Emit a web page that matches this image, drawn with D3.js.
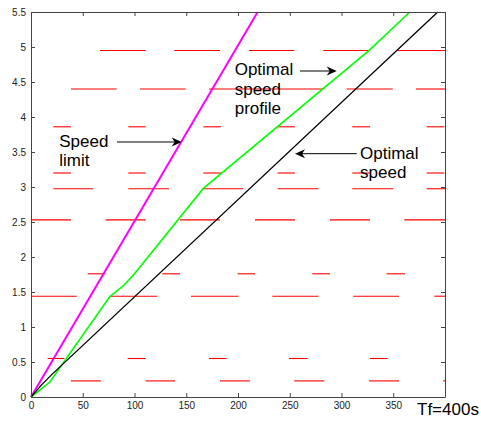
<!DOCTYPE html>
<html>
<head>
<meta charset="utf-8">
<script src="https://cdn.jsdelivr.net/npm/d3@7"></script>
<style>
  html, body { margin: 0; padding: 0; background: #fff; }
  svg { display: block; font-family: "Liberation Sans", Arial, sans-serif; }
</style>
</head>
<body>
<svg id="chart" width="481" height="421"></svg>
<script>
// ---- data ----
const xTicks = [0, 50, 100, 150, 200, 250, 300, 350, 400];
const xTickLabels = ["0", "50", "100", "150", "200", "250", "300", "350", ""];
const yTicks = [0, 0.5, 1, 1.5, 2, 2.5, 3, 3.5, 4, 4.5, 5, 5.5];
const yTickLabels = ["0", "0.5", "1", "1.5", "2", "2.5", "3", "3.5", "4", "4.5", "5", "5.5"];

// signal positions (distance) and their red phases (time intervals, s)
const stopDist = [0.23, 0.55, 1.44, 1.76, 2.53, 2.975, 3.20, 3.86, 4.40, 4.95];
const redPhases = [
  [[38.6, 67.6], [110.8, 139.1], [182.6, 211.6], [254.4, 283.4], [326.6, 355.6], [398.4, 400]],
  [[16.1, 32.2], [93.4, 110.8], [172, 189], [249.3, 267.3], [327.5, 344.6]],
  [[0, 44.2], [76.3, 122], [154.6, 200.3], [233.2, 277.6], [311.4, 355.6], [389.7, 400]],
  [[54.8, 71.5], [126.9, 143.9], [199.7, 216.4], [271.8, 288.9], [343.6, 361.4]],
  [[0, 38.6], [72.2, 110.8], [144, 182.6], [216.4, 255], [288.9, 327.5], [360.7, 400]],
  [[21.6, 60.2], [94, 133.3], [166.5, 205.1], [238.3, 277.6], [310.4, 350], [382.3, 400]],
  [[21.6, 38.6], [94, 110.8], [166.5, 183.6], [238.3, 255], [310.4, 327.5], [382.3, 399.4]],
  [[21.6, 38.6], [94, 110.8], [166.5, 183.6], [238.3, 255], [310.4, 327.5], [382.3, 399.4]],
  [[38.6, 82.8], [105.3, 149.5], [172, 283], [305, 349.5], [372, 400]],
  [[66.7, 110.8], [138.5, 182.6], [210.6, 254.4], [282.4, 326.6], [354.3, 400]]
];

// speed limit trajectory
const limitT = [0, 219];
const limitD = [0, 5.5];
// optimal constant speed trajectory
const optT = [0, 10, 20, 393];
const optD = [0, 0.17, 0.32, 5.5];
// optimal speed profile trajectory
const profT = [0, 18, 76, 90, 100, 166.5, 327, 366];
const profD = [0, 0.21, 1.43, 1.6, 1.76, 2.98, 4.955, 5.5];

// annotations (text lines at data coords, arrows from -> to in data coords)
const annotTexts = [
  { lines: ["Speed", "limit"], t: 27.3, d: [3.576, 3.30] },
  { lines: ["Optimal", "speed", "profile"], t: 196.8, d: [4.60, 4.32, 4.04] },
  { lines: ["Optimal", "speed"], t: 317.9, d: [3.404, 3.124] }
];
const annotArrows = [
  { from: [83.1, 3.643], to: [145.6, 3.643] },
  { from: [259.9, 4.657], to: [295.4, 4.657] },
  { from: [314.7, 3.476], to: [255.1, 3.476] }
];
const tfLabel = "Tf=400s";

// ---- drawing ----
const svg = d3.select("#chart");
const mLeft = 31, mRight = 445, mTop = 12, mBottom = 397;
const x = d3.scaleLinear().domain([0, 400]).range([mLeft, mRight]);
const y = d3.scaleLinear().domain([0, 5.5]).range([mBottom, mTop]);

// red phases
const g = svg.append("g");
stopDist.forEach((d, i) => {
  g.selectAll(null).data(redPhases[i]).enter().append("line")
    .attr("x1", p => x(p[0])).attr("x2", p => x(p[1]))
    .attr("y1", y(d)).attr("y2", y(d))
    .attr("stroke", "#ff0000").attr("stroke-width", 1.1);
});

const line = d3.line().x(p => x(p[0])).y(p => y(p[1]));
svg.append("path").datum(limitT.map((t, i) => [t, limitD[i]]))
  .attr("d", line).attr("fill", "none").attr("stroke", "#ff00ff").attr("stroke-width", 2);
svg.append("path").datum(profT.map((t, i) => [t, profD[i]]))
  .attr("d", line).attr("fill", "none").attr("stroke", "#00ff00").attr("stroke-width", 1.6);
svg.append("path").datum(optT.map((t, i) => [t, optD[i]]))
  .attr("d", line).attr("fill", "none").attr("stroke", "#000000").attr("stroke-width", 1.3);

// axes
const axColor = "#444";
function styleAxis(sel) {
  sel.selectAll(".domain").attr("stroke", axColor);
  sel.selectAll(".tick line").attr("stroke", axColor);
  sel.selectAll(".tick text").attr("fill", "#222").attr("font-size", 10)
    .attr("font-family", "'Liberation Sans', Arial, sans-serif");
}
svg.append("g").attr("transform", `translate(0,${mBottom})`)
  .call(d3.axisBottom(x).tickValues(xTicks).tickSizeInner(-4).tickSizeOuter(0).tickPadding(5)
    .tickFormat((v, i) => xTickLabels[i]))
  .call(styleAxis);
svg.append("g").attr("transform", `translate(0,${mTop})`)
  .call(d3.axisTop(x).tickValues(xTicks).tickSizeInner(-4).tickSizeOuter(0).tickFormat(""))
  .call(styleAxis);
svg.append("g").attr("transform", `translate(${mLeft},0)`)
  .call(d3.axisLeft(y).tickValues(yTicks).tickSizeInner(-4).tickSizeOuter(0).tickPadding(5)
    .tickFormat((v, i) => yTickLabels[i]))
  .call(styleAxis);
svg.append("g").attr("transform", `translate(${mRight},0)`)
  .call(d3.axisRight(y).tickValues(yTicks).tickSizeInner(-4).tickSizeOuter(0).tickFormat(""))
  .call(styleAxis);

// annotations
annotTexts.forEach(a => {
  a.lines.forEach((s, i) => {
    svg.append("text").attr("x", x(a.t)).attr("y", y(a.d[i]))
      .attr("font-size", 17).attr("fill", "#000").text(s);
  });
});
annotArrows.forEach(a => {
  const x1 = x(a.from[0]), y1 = y(a.from[1]), x2 = x(a.to[0]), y2 = y(a.to[1]);
  const ang = Math.atan2(y2 - y1, x2 - x1);
  svg.append("line").attr("x1", x1).attr("y1", y1).attr("x2", x2 - 6 * Math.cos(ang)).attr("y2", y2 - 6 * Math.sin(ang))
    .attr("stroke", "#000").attr("stroke-width", 1);
  const L = 10, Wd = 4.5, N = 7;
  const pts = [[0, 0], [-L, -Wd], [-N, 0], [-L, Wd]].map(([u, v]) =>
    [x2 + u * Math.cos(ang) - v * Math.sin(ang), y2 + u * Math.sin(ang) + v * Math.cos(ang)]);
  svg.append("path").attr("d", "M" + pts.map(p => p.join(",")).join("L") + "Z").attr("fill", "#000");
});

svg.append("text").attr("x", x(400) - 28).attr("y", mBottom + 18)
  .attr("font-size", 17).attr("fill", "#000").text(tfLabel);
</script>
</body>
</html>
